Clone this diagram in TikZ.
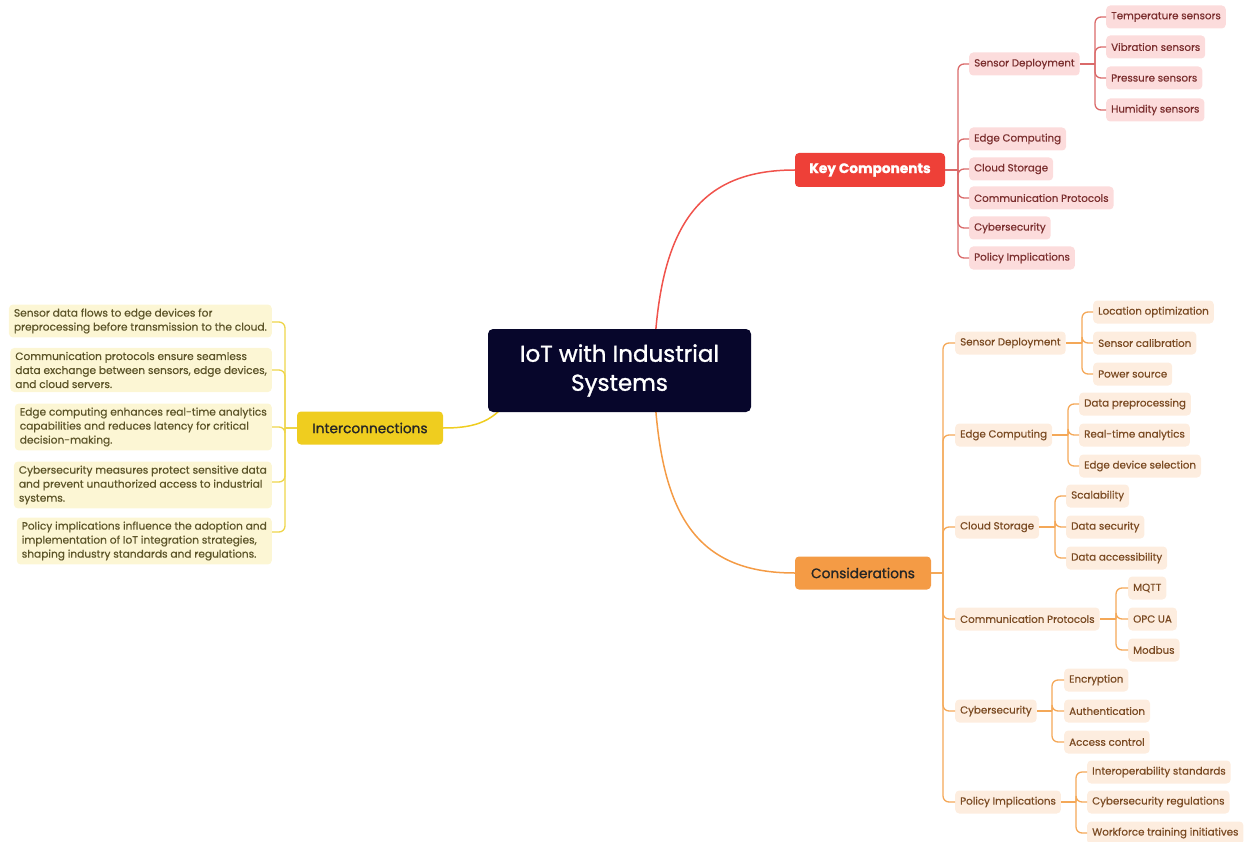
\documentclass[tikz,border=0pt]{standalone}
\usepackage{fontspec}
\setmainfont{Poppins}
\newfontfamily\medfont{Poppins}[FakeBold=1.2]
\newfontfamily\lightmed{Poppins}[FakeBold=0.5]
\usetikzlibrary{backgrounds,calc}
\definecolor{rootfill}{HTML}{07062B}
\definecolor{kcred}{HTML}{EE4038}
\definecolor{kline}{HTML}{DA6A6A}
\definecolor{kfill}{HTML}{FCDCDC}
\definecolor{ktext}{HTML}{7A2E2E}
\definecolor{coorange}{HTML}{F49B45}
\definecolor{coline}{HTML}{F4A858}
\definecolor{cofill}{HTML}{FDEDDF}
\definecolor{cotext}{HTML}{7A4A22}
\definecolor{icyellow}{HTML}{EFCD1F}
\definecolor{icline}{HTML}{EED54A}
\definecolor{icfill}{HTML}{FCF6D4}
\definecolor{ictext}{HTML}{5C5428}
\begin{document}
\begin{tikzpicture}[x=1pt,y=-1pt,
  rootbox/.style={fill=rootfill,text=white,rounded corners=5pt,minimum width=263pt,minimum height=83pt,align=center,font=\medfont\fontsize{23}{29}\selectfont},
  mainbox/.style={rounded corners=4pt,minimum height=34pt,font=\medfont\fontsize{13.7}{16}\selectfont},
  kchild/.style={fill=kfill,text=ktext,rounded corners=4pt,anchor=west,minimum height=23pt,inner xsep=5pt,font=\lightmed\fontsize{10.3}{12}\selectfont},
  cchild/.style={fill=cofill,text=cotext,rounded corners=4pt,anchor=west,minimum height=23pt,inner xsep=5pt,font=\lightmed\fontsize{10.3}{12}\selectfont},
  ipara/.style={fill=icfill,text=ictext,rounded corners=4pt,anchor=east,align=left,inner xsep=5pt,inner ysep=4pt,font=\lightmed\fontsize{10.6}{14}\selectfont},
  klink/.style={draw=kline,line width=1.3pt,rounded corners=6pt},
  clink/.style={draw=coline,line width=1.3pt,rounded corners=6pt},
  ilink/.style={draw=icline,line width=1.3pt,rounded corners=6pt}
]
\useasboundingbox (0,0) rectangle (1249,842);

% main nodes
\node[rootbox] (root) at (619.5,370.5) {IoT with Industrial\\Systems};
\node[mainbox,fill=kcred,text=white,minimum width=150pt] (kc) at (870,170) {\bfseries Key Components};
\node[mainbox,fill=coorange,text=black!85,minimum width=136pt,minimum height=33pt] (co) at (863,573) {Considerations};
\node[mainbox,fill=icyellow,text=black!85,minimum width=146pt,minimum height=33pt] (ic) at (370,428) {Interconnections};

% main connectors
\begin{pgfonlayer}{background}
\draw[draw=kcred!90,line width=1.5pt] (655,340) .. controls (663,225) and (700,170) .. (kc.west);
\draw[draw=coorange,line width=1.5pt] (655,400) .. controls (663,520) and (700,573) .. (co.west);
\draw[draw=icyellow,line width=1.5pt] (508,400) .. controls (492,424) and (470,428) .. (ic.east);
\end{pgfonlayer}

% Key Components children
\node[kchild] (k1) at (969,64) {Sensor Deployment};
\node[kchild] (k2) at (969,139) {Edge Computing};
\node[kchild] (k3) at (969,169) {Cloud Storage};
\node[kchild] (k4) at (969,198) {Communication Protocols};
\node[kchild] (k5) at (969,228) {Cybersecurity};
\node[kchild] (k6) at (969,258) {Policy Implications};
\coordinate (kt) at (958,170);
\draw[klink] (kc.east) -- (kt);
\foreach \c in {k1,k2,k3,k4,k5,k6} \draw[klink] (kt) |- (\c.west);

\node[kchild] (k11) at (1106,17) {Temperature sensors};
\node[kchild] (k12) at (1106,47) {Vibration sensors};
\node[kchild] (k13) at (1106,78) {Pressure sensors};
\node[kchild] (k14) at (1106,110) {Humidity sensors};
\coordinate (k1t) at (1095,64);
\draw[klink] (k1.east) -- (k1t);
\foreach \c in {k11,k12,k13,k14} \draw[klink] (k1t) |- (\c.west);

% Considerations children
\node[cchild] (c1) at (955,343) {Sensor Deployment};
\node[cchild] (c2) at (955,435) {Edge Computing};
\node[cchild] (c3) at (955,527) {Cloud Storage};
\node[cchild] (c4) at (955,619) {Communication Protocols};
\node[cchild] (c5) at (955,711) {Cybersecurity};
\node[cchild] (c6) at (955,802) {Policy Implications};
\coordinate (ct) at (943,573);
\draw[clink] (co.east) -- (ct);
\foreach \c in {c1,c2,c3,c4,c5,c6} \draw[clink] (ct) |- (\c.west);

\node[cchild] (c11) at (1093,312) {Location optimization};
\node[cchild] (c12) at (1093,343) {Sensor calibration};
\node[cchild] (c13) at (1093,374) {Power source};
\coordinate (c1t) at (1082,343);
\draw[clink] (c1.east) -- (c1t);
\foreach \c in {c11,c12,c13} \draw[clink] (c1t) |- (\c.west);

\node[cchild] (c21) at (1079,404) {Data preprocessing};
\node[cchild] (c22) at (1079,435) {Real-time analytics};
\node[cchild] (c23) at (1079,466) {Edge device selection};
\coordinate (c2t) at (1068,435);
\draw[clink] (c2.east) -- (c2t);
\foreach \c in {c21,c22,c23} \draw[clink] (c2t) |- (\c.west);

\node[cchild] (c31) at (1066,496) {Scalability};
\node[cchild] (c32) at (1066,527) {Data security};
\node[cchild] (c33) at (1066,558) {Data accessibility};
\coordinate (c3t) at (1055,527);
\draw[clink] (c3.east) -- (c3t);
\foreach \c in {c31,c32,c33} \draw[clink] (c3t) |- (\c.west);

\node[cchild] (c41) at (1128,588) {MQTT};
\node[cchild] (c42) at (1128,619) {OPC UA};
\node[cchild] (c43) at (1128,650) {Modbus};
\coordinate (c4t) at (1116,619);
\draw[clink] (c4.east) -- (c4t);
\foreach \c in {c41,c42,c43} \draw[clink] (c4t) |- (\c.west);

\node[cchild] (c51) at (1064,680) {Encryption};
\node[cchild] (c52) at (1064,711) {Authentication};
\node[cchild] (c53) at (1064,742) {Access control};
\coordinate (c5t) at (1052,711);
\draw[clink] (c5.east) -- (c5t);
\foreach \c in {c51,c52,c53} \draw[clink] (c5t) |- (\c.west);

\node[cchild] (c61) at (1087,772) {Interoperability standards};
\node[cchild] (c62) at (1087,802) {Cybersecurity regulations};
\node[cchild] (c63) at (1087,833) {Workforce training initiatives};
\coordinate (c6t) at (1076,802);
\draw[clink] (c6.east) -- (c6t);
\foreach \c in {c61,c62,c63} \draw[clink] (c6t) |- (\c.west);

% Interconnections children
\node[ipara] (i1) at (272,321) {Sensor data flows to edge devices for\\preprocessing before transmission to the cloud.};
\node[ipara] (i2) at (272,370) {Communication protocols ensure seamless\\data exchange between sensors, edge devices,\\and cloud servers.};
\node[ipara] (i3) at (272,427) {Edge computing enhances real-time analytics\\capabilities and reduces latency for critical\\decision-making.};
\node[ipara] (i4) at (272,485) {Cybersecurity measures protect sensitive data\\and prevent unauthorized access to industrial\\systems.};
\node[ipara] (i5) at (272,541) {Policy implications influence the adoption and\\implementation of IoT integration strategies,\\shaping industry standards and regulations.};
\coordinate (it) at (285,428);
\draw[ilink] (ic.west) -- (it);
\foreach \c/\yy in {i1/322,i2/370,i3/427,i4/482,i5/532} \draw[ilink] (it) |- (272,\yy);
\end{tikzpicture}
\end{document}
